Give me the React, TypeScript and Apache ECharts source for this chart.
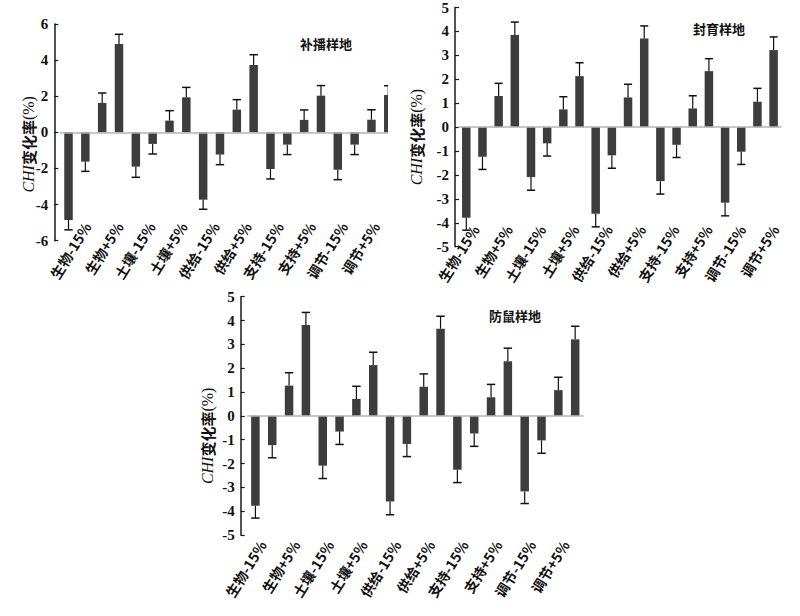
import React, { useEffect, useRef } from "react";
import * as echarts from "echarts";

// ---- data ----
const categories = [
  "生物-15%", "生物-5%", "生物+5%", "生物+15%",
  "土壤-15%", "土壤-5%", "土壤+5%", "土壤+15%",
  "供给-15%", "供给-5%", "供给+5%", "供给+15%",
  "支持-15%", "支持-5%", "支持+5%", "支持+15%",
  "调节-15%", "调节-5%", "调节+5%", "调节+15%",
];

const buboValues = [-4.85, -1.62, 1.63, 4.89, -1.9, -0.64, 0.65, 1.94, -3.73, -1.23, 1.26, 3.73, -2.03, -0.68, 0.69, 2.03, -2.07, -0.68, 0.7, 2.07];
const buboErrors = [0.55, 0.54, 0.55, 0.54, 0.59, 0.56, 0.55, 0.55, 0.53, 0.56, 0.55, 0.57, 0.55, 0.55, 0.55, 0.56, 0.55, 0.55, 0.55, 0.51];

const fengyuValues = [-3.79, -1.24, 1.3, 3.85, -2.09, -0.68, 0.74, 2.13, -3.62, -1.18, 1.24, 3.7, -2.26, -0.74, 0.78, 2.34, -3.16, -1.03, 1.06, 3.22];
const fengyuErrors = [0.52, 0.53, 0.53, 0.54, 0.55, 0.53, 0.53, 0.56, 0.55, 0.54, 0.55, 0.53, 0.54, 0.53, 0.53, 0.52, 0.55, 0.53, 0.56, 0.55];

const fangshuValues = [-3.77, -1.23, 1.27, 3.81, -2.09, -0.66, 0.71, 2.13, -3.59, -1.18, 1.22, 3.66, -2.26, -0.74, 0.78, 2.29, -3.17, -1.03, 1.08, 3.21];
const fangshuErrors = [0.52, 0.53, 0.54, 0.53, 0.54, 0.54, 0.53, 0.54, 0.56, 0.53, 0.54, 0.52, 0.54, 0.54, 0.54, 0.55, 0.51, 0.54, 0.54, 0.55];

const panelTitles = ["补播样地", "封育样地", "防鼠样地"];
const yRangeA = { min: -6, max: 6, interval: 2 };
const yRangeB = { min: -5, max: 5, interval: 1 };
const yAxisName = "{i|CHI}{n|变化率}{p|(%)}";

// ---- styling ----
const BAR = "#3d3d3d";
const SERIF = "'Liberation Serif', 'Times New Roman', serif";
const CJK = "'Noto Sans CJK SC', 'Liberation Serif', sans-serif";

type PanelCfg = {
  title: string;
  values: number[];
  errors: number[];
  range: { min: number; max: number; interval: number };
  gridLeft: number;
  gridTop: number;
  gridWidth: number;
  gridHeight: number;
  yOffset: number;
  nameGap: number;
  namePad: number;
  labelDx: number;
  labelMargin: number;
  titleLeft: number;
  titleTop: number;
};

function buildOption(c: PanelCfg) {
  const data = c.values.map((v, i) => [i, v, c.errors[i]]);
  return {
    animation: false,
    title: {
      text: c.title,
      left: c.titleLeft,
      top: c.titleTop,
      padding: 0,
      textStyle: { fontFamily: CJK, fontWeight: "bold", fontSize: 13, color: "#111" },
    },
    grid: [
      { left: c.gridLeft, top: c.gridTop, width: c.gridWidth, height: c.gridHeight },
      { left: c.gridLeft + c.labelDx, top: c.gridTop, width: c.gridWidth, height: c.gridHeight },
    ],
    xAxis: [
      {
        type: "category",
        gridIndex: 0,
        data: categories,
        axisLine: { show: false },
        axisTick: { show: false },
        axisLabel: { show: false },
        splitLine: { show: false },
      },
      {
        type: "category",
        gridIndex: 1,
        data: categories,
        axisLine: { show: false },
        axisTick: { show: false },
        splitLine: { show: false },
        axisLabel: {
          interval: 1,
          rotate: 58,
          margin: c.labelMargin,
          fontSize: 14,
          fontWeight: "bold",
          fontFamily: CJK,
          color: "#111",
        },
      },
    ],
    yAxis: [
      {
        type: "value",
        gridIndex: 0,
        min: c.range.min,
        max: c.range.max,
        interval: c.range.interval,
        offset: c.yOffset,
        axisLine: { show: true, onZero: false, lineStyle: { color: "#1a1a1a", width: 1.5 } },
        axisTick: { show: true, inside: true, length: 4, lineStyle: { color: "#1a1a1a", width: 1.2 } },
        axisLabel: { margin: 6, fontFamily: SERIF, fontWeight: "bold", fontSize: 15, color: "#111" },
        splitLine: { show: false },
        name: yAxisName,
        nameLocation: "middle",
        nameRotate: 90,
        nameGap: c.nameGap,
        nameMoveOverlap: false,
        nameTextStyle: {
          padding: [0, c.namePad, 0, 0],
          rich: {
            i: { fontFamily: SERIF, fontStyle: "italic", fontSize: 16, color: "#111" },
            n: { fontFamily: CJK, fontWeight: "bold", fontSize: 15, color: "#111" },
            p: { fontFamily: SERIF, fontSize: 16, color: "#111" },
          },
        },
      },
      { type: "value", gridIndex: 1, show: false, min: c.range.min, max: c.range.max },
    ],
    series: [
      {
        type: "bar",
        xAxisIndex: 0,
        yAxisIndex: 0,
        data: c.values,
        barWidth: 8.5,
        itemStyle: { color: BAR },
        markLine: {
          silent: true,
          symbol: "none",
          label: { show: false },
          lineStyle: { color: "#b4b4b4", type: "solid", width: 1.5 },
          data: [{ yAxis: 0 }],
        },
      },
      {
        type: "custom",
        xAxisIndex: 0,
        yAxisIndex: 0,
        encode: { x: 0, y: 1 },
        data,
        z: 3,
        renderItem: (params: any, api: any) => {
          const x = api.value(0);
          const v = api.value(1);
          const e = api.value(2);
          const end = v >= 0 ? v + e : v - e;
          const p0 = api.coord([x, v]);
          const p1 = api.coord([x, end]);
          const hw = api.size([1, 0])[0] * 0.25;
          return {
            type: "group",
            children: [
              { type: "line", shape: { x1: p0[0], y1: p0[1], x2: p1[0], y2: p1[1] }, style: { stroke: "#111", lineWidth: 1.2 } },
              { type: "line", shape: { x1: p1[0] - hw, y1: p1[1], x2: p1[0] + hw, y2: p1[1] }, style: { stroke: "#111", lineWidth: 1.5 } },
            ],
          };
        },
      },
    ],
  };
}

const panels: { box: { left: number; top: number; width: number; height: number; clipW?: number }; cfg: PanelCfg }[] = [
  {
    box: { left: 0, top: 0, width: 400, height: 300, clipW: 388 },
    cfg: {
      title: panelTitles[0], values: buboValues, errors: buboErrors, range: yRangeA,
      gridLeft: 60.1, gridTop: 24, gridWidth: 336.6, gridHeight: 216.7, yOffset: 5.8,
      nameGap: 18, namePad: 24, labelDx: 19, labelMargin: -17, titleLeft: 300, titleTop: 37,
    },
  },
  {
    box: { left: 400, top: 0, width: 400, height: 300 },
    cfg: {
      title: panelTitles[1], values: fengyuValues, errors: fengyuErrors, range: yRangeB,
      gridLeft: 44.9, gridTop: 7.5, gridWidth: 336.8, gridHeight: 239.2, yOffset: 3.2,
      nameGap: 31, namePad: 20, labelDx: 22, labelMargin: -20, titleLeft: 293, titleTop: 22,
    },
  },
  {
    box: { left: 190, top: 285, width: 410, height: 331 },
    cfg: {
      title: panelTitles[2], values: fangshuValues, errors: fangshuErrors, range: yRangeB,
      gridLeft: 57, gridTop: 11.7, gridWidth: 336.6, gridHeight: 238.3, yOffset: 6.3,
      nameGap: 25, namePad: 40, labelDx: 7, labelMargin: 7, titleLeft: 299, titleTop: 24,
    },
  },
];

function Panel({ box, cfg }: { box: any; cfg: PanelCfg }) {
  const ref = useRef<HTMLDivElement>(null);
  useEffect(() => {
    if (!ref.current) return;
    const chart = echarts.init(ref.current, undefined, { renderer: "svg" });
    chart.setOption(buildOption(cfg) as any);
    return () => chart.dispose();
  }, []);
  return (
    <div
      style={{
        position: "absolute",
        left: box.left,
        top: box.top,
        width: box.clipW ?? box.width,
        height: box.height,
        overflow: "hidden",
      }}
    >
      <div ref={ref} style={{ width: box.width, height: box.height }} />
    </div>
  );
}

export default function App() {
  return (
    <div style={{ position: "absolute", left: 0, top: 0, width: 800, height: 616, background: "#fff", overflow: "hidden" }}>
      {panels.map((p, i) => (
        <Panel key={i} box={p.box} cfg={p.cfg} />
      ))}
    </div>
  );
}
